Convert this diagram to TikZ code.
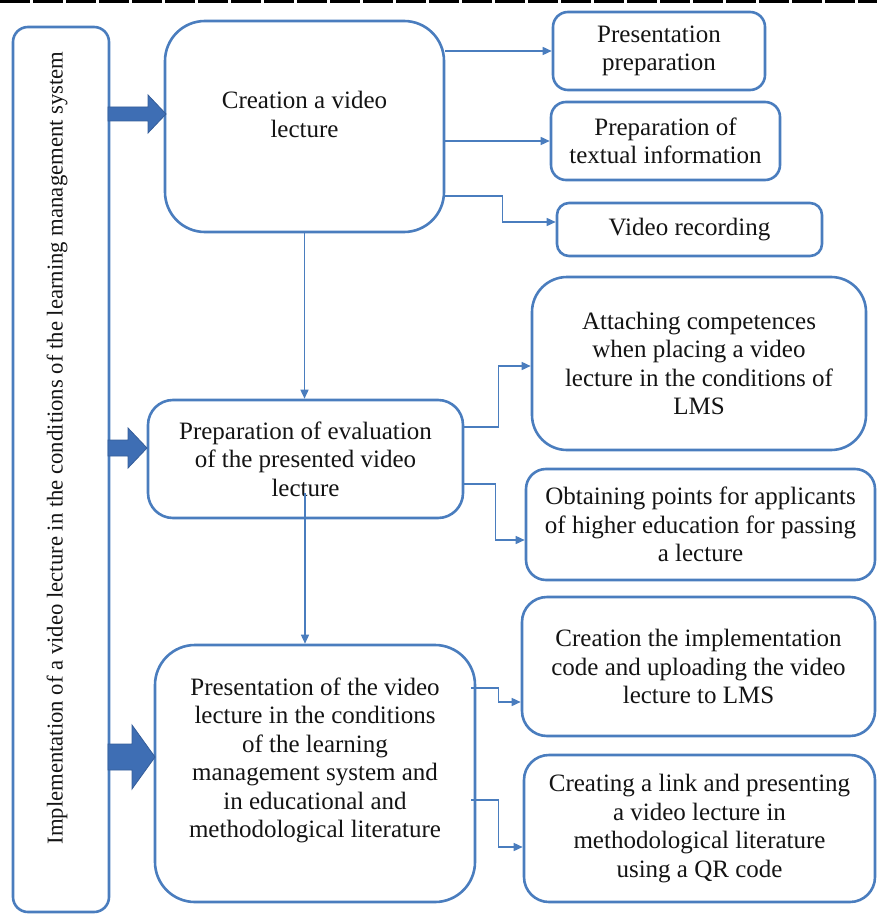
\documentclass[tikz,border=0pt]{standalone}
\usepackage{fontspec}
\setmainfont{Liberation Serif}
\usetikzlibrary{calc,arrows.meta}
\definecolor{bl}{RGB}{74,125,190}
\definecolor{blfill}{RGB}{62,110,180}
\definecolor{txt}{RGB}{20,20,20}
\begin{document}
\begin{tikzpicture}[x=1pt,y=-1pt,
  box/.style={draw=bl, line width=2.6pt, fill=white, align=center, inner sep=0pt,
    text=txt, font=\fontsize{25}{28.5}\selectfont},
  conn/.style={draw=bl, line width=1.5pt, -{Triangle[length=9pt,width=8pt]}},
  blockarr/.style={fill=blfill, draw=blfill!85!black, line width=0.8pt}]
\useasboundingbox (0,0) rectangle (877,917);
\draw[black, line width=3pt, dash pattern=on 30pt off 3pt] (0,1.5) -- (877,1.5);

% left tall box
\node[box, rounded corners=15pt, minimum width=96pt, minimum height=885pt] (lbox) at (61,469.5) {};
\node[rotate=90, text=txt, font=\fontsize{22.7}{26}\selectfont] (ltext) at (57,448)
  {Implementation of a video lecture in the conditions of the learning management system};

% middle column
\node[box, rounded corners=40pt, minimum width=279pt, minimum height=211pt,
  label={[text=txt, font=\fontsize{25}{28.5}\selectfont, align=center, yshift=12pt]center:{Creation a video\\lecture}}]
  (cre) at (304.5,126.5) {};
\node[box, rounded corners=25pt, minimum width=315pt, minimum height=118pt] (eval) at (305.5,459)
  {Preparation of evaluation\\of the presented video\\lecture};
\node[box, rounded corners=40pt, minimum width=320pt, minimum height=257pt,
  label={[text=txt, font=\fontsize{25}{28.5}\selectfont, align=center, yshift=13pt]center:{Presentation of the video\\lecture in the conditions\\of the learning\\management system and\\in educational and\\methodological literature}}]
  (pres) at (315,773.5) {};

% right column
\node[box, rounded corners=15pt, minimum width=212pt, minimum height=78pt] (pp) at (659,51)
  {Presentation\\preparation};
\node[box, rounded corners=15pt, minimum width=229pt, minimum height=78pt] (tx) at (665.5,141)
  {Preparation of\\textual information};
\node[box, rounded corners=12pt, minimum width=265pt, minimum height=53pt] (vr) at (689.5,229.5)
  {Video recording};
\node[box, rounded corners=35pt, minimum width=334pt, minimum height=173pt] (att) at (699,363.5)
  {Attaching competences\\when placing a video\\lecture in the conditions of\\LMS};
\node[box, rounded corners=20pt, minimum width=349pt, minimum height=111pt] (obt) at (700.5,524.5)
  {Obtaining points for applicants\\of higher education for passing\\a lecture};
\node[box, rounded corners=25pt, minimum width=353pt, minimum height=139pt] (impl) at (698.5,666.5)
  {Creation the implementation\\code and uploading the video\\lecture to LMS};
\node[box, rounded corners=25pt, minimum width=351pt, minimum height=147pt] (link) at (699.5,828.5)
  {Creating a link and presenting\\a video lecture in\\methodological literature\\using a QR code};

% connectors
\draw[conn] (cre.east |- pp.west) -- (pp.west);
\draw[conn] (cre.east |- tx.west) -- (tx.west);
\draw[conn] ($(cre.east)+(0,69.5)$) -- ++(57,0) |- ($(vr.west)+(0,-7.5)$);
\draw[conn] (cre.south) -- (cre.south |- eval.north);
\draw[conn] ($(eval.east)+(0,-32)$) -- ++(34,0) |- ($(att.west)+(0,2.5)$);
\draw[conn] ($(eval.east)+(0,25)$) -- ++(31,0) |- ($(obt.west)+(0,15.5)$);
\coordinate (evs) at (305,493);
\draw[conn] (evs) -- (evs |- pres.north);
\draw[conn] ($(pres.east)+(-5,-85.5)$) -- ++(27,0) |- ($(impl.west)+(0,35.5)$);
\draw[conn] ($(pres.east)+(-5,26.5)$) -- ++(27,0) |- ($(link.west)+(0,18.5)$);

% block arrows
\filldraw[blockarr] (108,107) -- (148,107) -- (148,95) -- (166,114) -- (148,133) -- (148,121) -- (108,121) -- cycle;
\filldraw[blockarr] (108,440) -- (128,440) -- (128,428) -- (147,448) -- (128,468) -- (128,456) -- (108,456) -- cycle;
\filldraw[blockarr] (108,744) -- (132,744) -- (132,725) -- (155,757) -- (132,789) -- (132,770) -- (108,770) -- cycle;
\end{tikzpicture}
\end{document}
